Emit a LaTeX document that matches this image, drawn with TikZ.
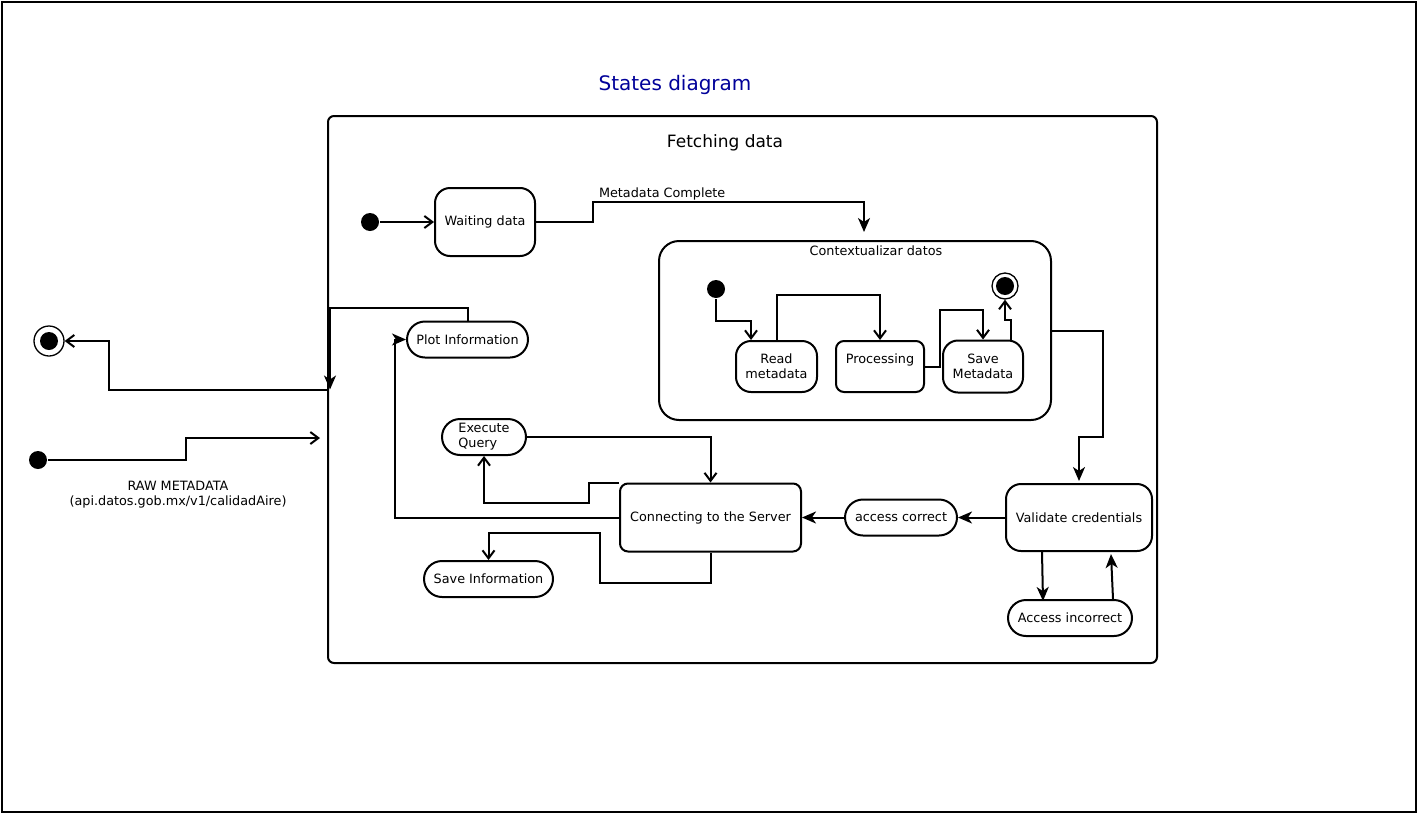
\documentclass[tikz,border=0pt]{standalone}
\usepackage{fontspec}
\setmainfont{DejaVu Sans}
\usetikzlibrary{arrows.meta, positioning, shapes.misc, calc}
\definecolor{titleblue}{RGB}{0,0,153}

\begin{document}
\begin{tikzpicture}[
    x=1pt, y=-1pt,
    line width=2pt,
    small/.style={font=\fontsize{12.8}{15}\selectfont},
    statebox/.style={rectangle, draw, rounded corners=15pt, align=center, inner sep=2pt, small},
    sharpbox/.style={statebox, rounded corners=8pt},
    pillbox/.style={rounded rectangle, draw, minimum height=36pt, inner sep=2pt, align=center, small},
    container/.style={rectangle, draw, inner sep=0pt},
    initdot/.style={circle, fill=black, minimum size=18pt, inner sep=0pt},
    finaldot/.style={circle, draw, line width=1.3pt, minimum size=#1, inner sep=0pt,
        path picture={\fill (path picture bounding box.center) circle (9pt);}},
    finaldot/.default=30pt,
    openarrow/.style={-{Straight Barb[length=8pt, width=12pt]}},
    filledarrow/.style={-{Stealth[length=14pt, width=12pt, inset=4pt]}},
    node distance=17pt
]
\useasboundingbox (0,0) rectangle (1418,814);
\draw (2,2) rectangle (1416,812);

\node[text=titleblue, font=\fontsize{20}{24}\selectfont] (title) at (675,85) {States diagram};

% Fetching data container
\node[container, rounded corners=6pt, minimum width=829pt, minimum height=547pt] (fetch) at (742.5,389.5) {};
\node[font=\fontsize{17}{20}\selectfont] (fetchlabel) at (725,143) {Fetching data};

\node[statebox, minimum width=100pt, minimum height=68pt] (waiting) at (485,222) {Waiting data};
\node[initdot, left=54pt of waiting] (init1) {};

% Contextualizar datos
\node[container, rounded corners=20pt, minimum width=392pt, minimum height=179pt] (ctx) at (855,330.5) {};
\node[small] (ctxlabel) at (876,251) {Contextualizar datos};
\node[initdot] (ctxinit) at (716,289) {};
\node[finaldot=26pt] (ctxfinal) at (1005,286) {};
\node[statebox, minimum width=81pt, minimum height=51pt] (readmd) at (776.5,366.5) {Read\\metadata};
\node[sharpbox, minimum width=88pt, minimum height=51pt, right=of readmd] (proc) {Processing\\\phantom{P}};
\node[statebox, minimum width=80pt, minimum height=52pt, right=of proc] (savemd) {Save\\Metadata};

% Server side
\node[pillbox, minimum width=125pt] (plot) at (467.5,339.5) {Plot Information};
\node[pillbox, minimum width=88pt, align=left] (execq) at (484,437) {Execute\\Query};
\node[statebox, minimum width=146pt, minimum height=67pt] (valid) at (1079,517.5) {Validate credentials};
\node[pillbox, minimum width=116pt, left=47pt of valid] (acor) {access correct};
\node[sharpbox, minimum width=181pt, minimum height=68pt, left=42pt of acor] (conn) {Connecting to the Server};
\node[pillbox, minimum width=128pt, below=47pt of valid, xshift=-9pt] (ainc) {Access incorrect};
\node[pillbox, minimum width=133pt] (savei) at (488.5,579) {Save Information};

% Outside
\node[finaldot] (fin) at (49,341) {};
\node[initdot] (src) at (38,460) {};
\node[small, align=center] (rawlabel) at (178,494.5) {RAW METADATA\\(api.datos.gob.mx/v1/calidadAire)};

% Arrows
\draw[openarrow] (init1) -- (waiting);
\draw[filledarrow] (waiting.east) -- ++(57,0) -- ++(0,-20)
  node[above right, small, xshift=4pt, inner sep=1pt] (mdlabel) {Metadata Complete}
  -| ([xshift=9pt, yshift=8pt]ctx.north);

\draw[openarrow] (ctxinit.south) -- ++(0,22) -| ([xshift=-25.5pt]readmd.north);
\draw[openarrow] (readmd.north) -- ++(0,-45) -| (proc.north);
\draw[openarrow] (proc.east) -- ++(15,0) |- ($(savemd.north)+(0,-30)$) -- (savemd.north);
\draw[openarrow] ([xshift=28pt]savemd.north) -- ++(0,-20) -| (ctxfinal.south);

\draw[filledarrow] (ctx.east) -- ++(51,0) -- ++(0,106) -| ([yshift=2pt]valid.north);
\draw[filledarrow] (valid.west) -- (acor.east);
\draw[filledarrow] (acor.west) -- (conn.east);
\draw[filledarrow] ([xshift=-37pt]valid.south) -- ([xshift=-27pt, yshift=-2pt]ainc.north);
\draw[filledarrow] ([xshift=43pt]ainc.north) -- ([xshift=32pt, yshift=-2pt]valid.south);

\draw[openarrow] (execq.east) -| (conn.north);
\draw[openarrow] (conn.north west) -- ++(-30,0) -- ++(0,20) -| (execq.south);
\draw[filledarrow] (conn.west) -- ++(-224,0) |- (plot.west);
\draw[openarrow] (conn.south) -- ++(0,30) -| ++(-111,-50) -| (savei.north);

% in and out of the container
\draw[filledarrow] (plot.north) -- ++(0,-13) -| ([xshift=3pt]fetch.west);
\draw[openarrow] (fetch.west) -- ++(-218,0) |- (fin.east);
\draw[openarrow] (src.east) -- ++(138,0) |- ([xshift=-7pt, yshift=-48.5pt]fetch.west);

\end{tikzpicture}
\end{document}
